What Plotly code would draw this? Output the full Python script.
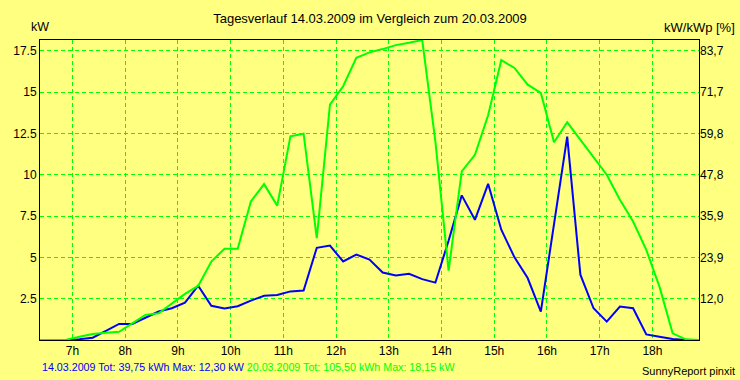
import plotly.graph_objects as go

# Time stamps (15-min samples)
times = ["06:23", "06:38", "06:53", "07:08", "07:23", "07:38", "07:53", "08:08", "08:23", "08:38",
         "08:53", "09:08", "09:23", "09:38", "09:53", "10:08", "10:23", "10:38", "10:53", "11:08",
         "11:23", "11:38", "11:53", "12:08", "12:23", "12:38", "12:53", "13:08", "13:23", "13:38",
         "13:53", "14:08", "14:23", "14:38", "14:53", "15:08", "15:23", "15:38", "15:53", "16:08",
         "16:23", "16:38", "16:53", "17:08", "17:23", "17:38", "17:53", "18:08", "18:23", "18:38",
         "18:53"]

# 14.03.2009 power (kW)
day1_kw = [0, 0, 0, 0.05, 0.14, 0.55, 0.97, 0.97, 1.37, 1.72,
           1.92, 2.26, 3.29, 2.07, 1.90, 2.04, 2.38, 2.68, 2.72, 2.94,
           2.99, 5.58, 5.71, 4.75, 5.17, 4.87, 4.08, 3.90, 4.00, 3.68,
           3.47, 6.00, 8.75, 7.27, 9.45, 6.67, 5.00, 3.75, 1.72, 7.00,
           12.30, 3.95, 1.92, 1.11, 2.02, 1.92, 0.34, 0.20, 0.06, 0,
           0]

# 20.03.2009 power (kW)
day2_kw = [0, 0, 0.02, 0.20, 0.36, 0.44, 0.50, 1.01, 1.52, 1.62,
           2.22, 2.79, 3.27, 4.75, 5.52, 5.52, 8.38, 9.43, 8.13, 12.32,
           12.48, 6.16, 14.24, 15.35, 17.07, 17.40, 17.60, 17.84, 17.98, 18.15,
           12.00, 4.20, 10.20, 11.20, 13.60, 16.93, 16.46, 15.45, 14.95, 11.96,
           13.17, 12.10, 11.00, 10.00, 8.48, 7.17, 5.45, 3.23, 0.40, 0.04,
           0]

hour_ticks = [7, 8, 9, 10, 11, 12, 13, 14, 15, 16, 17, 18]
hour_labels = ["7h", "8h", "9h", "10h", "11h", "12h", "13h", "14h", "15h", "16h", "17h", "18h"]
kw_ticks = [2.5, 5, 7.5, 10, 12.5, 15, 17.5]
kw_labels = ["2.5", "5", "7.5", "10", "12.5", "15", "17.5"]
pct_labels = ["12,0", "23,9", "35,9", "47,8", "59,8", "71,7", "83,7"]

def to_hours(s):
    h, m = s.split(":")
    return int(h) + int(m) / 60.0

x = [to_hours(t) for t in times]

BG = "#FFFF80"
GREEN = "#00FF00"
BLUE = "#0000FF"
FONT = "Liberation Sans, Arial, sans-serif"

fig = go.Figure()
fig.add_trace(go.Scatter(x=x, y=day1_kw, mode="lines", line=dict(color=BLUE, width=2),
                         name="14.03.2009", hoverinfo="x+y"))
fig.add_trace(go.Scatter(x=x, y=day2_kw, mode="lines", line=dict(color=GREEN, width=2),
                         name="20.03.2009", hoverinfo="x+y"))
# invisible trace to anchor right axis
fig.add_trace(go.Scatter(x=x, y=day2_kw, mode="lines", line=dict(color="rgba(0,0,0,0)", width=0),
                         yaxis="y2", hoverinfo="skip", showlegend=False))

fig.update_layout(
    width=740, height=380,
    margin=dict(l=40, r=41, t=40, b=40),
    paper_bgcolor=BG, plot_bgcolor=BG,
    showlegend=False,
    font=dict(family=FONT, size=12, color="black"),
    title=dict(text="Tagesverlauf 14.03.2009 im Vergleich zum 20.03.2009",
               x=0.5, xanchor="center", y=1 - 18 / 380, yanchor="middle",
               font=dict(family=FONT, size=13, color="black")),
    xaxis=dict(range=[x[0], x[-1]], tickvals=hour_ticks, ticktext=hour_labels,
               showgrid=True, gridcolor=GREEN, griddash="4px,3px", gridwidth=1,
               showline=True, linecolor="black", linewidth=1, mirror=True,
               ticks="", zeroline=False, tickfont=dict(size=12)),
    yaxis=dict(range=[0, 18.15], tickvals=kw_ticks, ticktext=kw_labels,
               showgrid=True, gridcolor=GREEN, griddash="4px,3px", gridwidth=1,
               showline=True, linecolor="black", linewidth=1, mirror=True,
               ticks="", zeroline=False, tickfont=dict(size=12)),
    yaxis2=dict(range=[0, 18.15], tickvals=kw_ticks, ticktext=pct_labels,
                overlaying="y", side="right", showgrid=False, zeroline=False,
                showline=False, ticks="", tickfont=dict(size=12)),
    annotations=[
        dict(text="kW", xref="paper", yref="paper", x=0.0, y=(340 - 27) / 300,
             xanchor="center", yanchor="middle", showarrow=False, font=dict(size=12.5)),
        dict(text="kW/kWp [%]", xref="paper", yref="paper", x=(737 - 40) / 659, y=(340 - 27) / 300,
             xanchor="right", yanchor="middle", showarrow=False, font=dict(size=13)),
        dict(text="<span style='color:#0000FF'>14.03.2009 Tot: 39,75 kWh Max: 12,30 kW</span> "
                  "<span style='color:#00FF00'>20.03.2009 Tot: 105,50 kWh Max: 18,15 kW</span>",
             xref="paper", yref="paper", x=0.0, y=(340 - 367) / 300,
             xanchor="left", yanchor="middle", showarrow=False, font=dict(size=10.7)),
        dict(text="SunnyReport pinxit", xref="paper", yref="paper", x=(737 - 40) / 659,
             y=(340 - 371) / 300, xanchor="right", yanchor="middle", showarrow=False,
             font=dict(size=11, color="black")),
    ],
)

fig.write_html("out.html",
               config={"displayModeBar": False},
               post_script="document.body.style.margin='0';"
                           "document.body.style.background='#FFFF80';")
